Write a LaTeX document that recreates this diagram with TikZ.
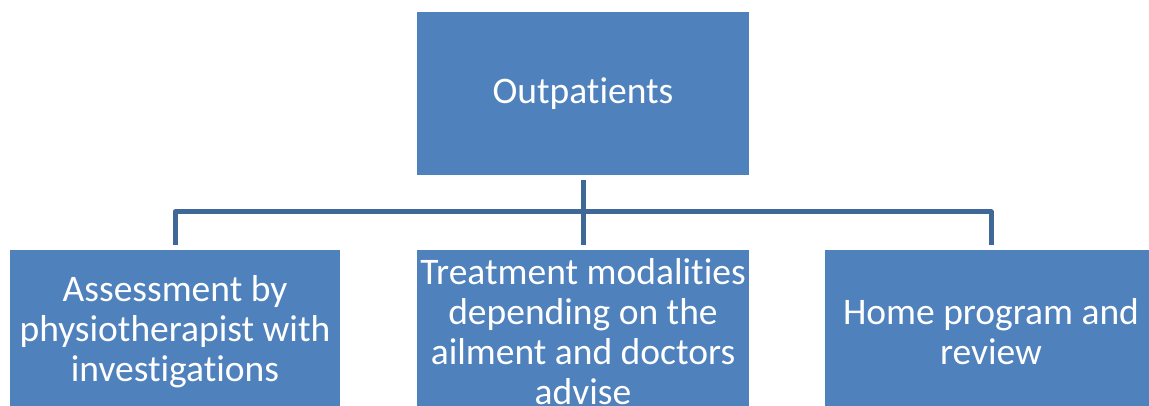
\documentclass[tikz,border=0pt]{standalone}
\usepackage{fontspec}
\setmainfont{Carlito}[Ligatures=NoCommon]
\usepackage{tikz}
\usetikzlibrary{positioning}

\definecolor{boxblue}{HTML}{4F81BD}
\definecolor{linkblue}{HTML}{3F6797}

\tikzset{
    unit/.style={draw=none,fill=boxblue,text=white,align=center,
        minimum width=332pt,minimum height=164pt,inner sep=2pt,
        font=\fontsize{37.5}{40}\selectfont},
    link/.style={draw=linkblue,line width=5pt,line join=round,
        shorten <=5pt,shorten >=5pt}
}

\begin{document}
\begin{tikzpicture}[x=1pt,y=-1pt]
                    \useasboundingbox (0,0) rectangle (1149,406);
                    \clip (0,0) rectangle (1149,406);
                    \fill[white] (0,0) rectangle (1149,406);
                    \node[unit,minimum height=163pt] (out) at (583,93.5) {Outpatients};
                    \node[unit,minimum width=330pt] (assess) at (175,332) {Assessment by\\physiotherapist with\\investigations};
                    \node[unit] (treat) at (583,332) {Treatment modalities\\depending on the\\ailment and doctors\\advise};
                    \node[unit] (home) at (991,332) {Home program and\\review};
                    \coordinate (bar) at (583,212);
                    \draw[link] (out.south) -- (bar) -| (assess.north);
                    \draw[link] (out.south) -- (bar) -| (home.north);
                    \draw[link] (out.south) -- (treat.north);
                \end{tikzpicture}
\end{document}
